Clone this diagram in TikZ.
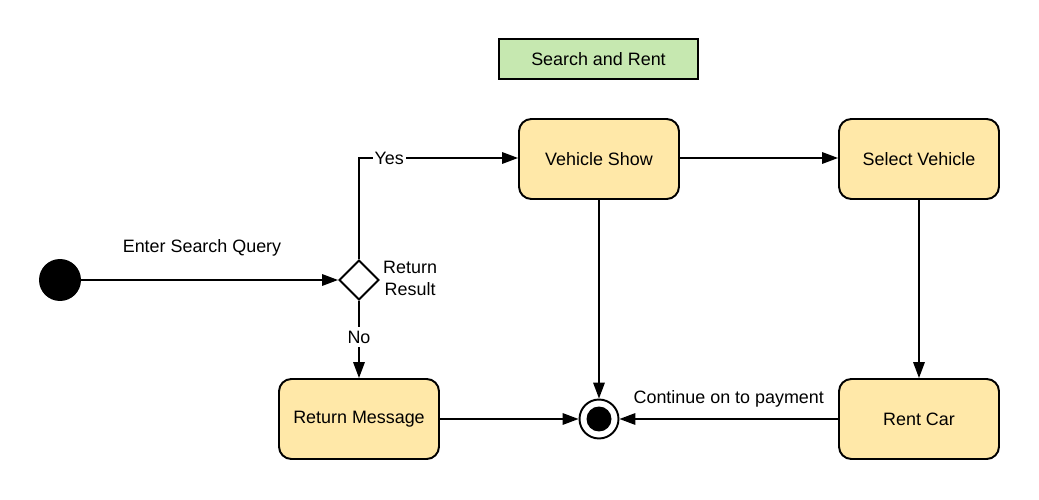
\documentclass[tikz,border=0pt]{standalone}
\usepackage{fontspec}
\setmainfont{Liberation Sans}
\usetikzlibrary{arrows.meta,shapes.geometric}
\definecolor{actyellow}{RGB}{255,232,168}
\definecolor{titlegreen}{RGB}{198,232,176}

\begin{document}
\begin{tikzpicture}[x=0.02cm, y=-0.02cm,
    font=\fontsize{10.2}{12.5}\selectfont,
    actbox/.style={draw, line width=1.1pt, rounded corners=7pt, fill=actyellow,
        minimum width=3.2cm, minimum height=1.6cm},
    flow/.style={line width=0.9pt, -{Triangle[length=9pt,width=6.5pt]}}]
    \useasboundingbox (0,0) rectangle (1039,500);

    % Titel
    \node[draw, line width=1.1pt, fill=titlegreen, minimum width=3.98cm, minimum height=0.8cm] (title) at (598.5,59) {Search and Rent};

    % Start, Entscheidung, Ende
    \node[circle, fill=black, minimum size=0.84cm, inner sep=0pt] (start) at (60,280) {};
    \node[diamond, draw, line width=1.1pt, fill=white, minimum size=0.8cm, inner sep=0pt] (decide) at (359,280) {};
    \node[circle, draw, line width=1.1pt, minimum size=0.78cm, inner sep=0pt] (stop) at (599,419) {};
    \node[circle, fill=black, minimum size=0.5cm, inner sep=0pt] at (stop) {};

    % Aktivitaeten
    \node[actbox] (show) at (599,159) {Vehicle Show};
    \node[actbox] (select) at (919,159) {Select Vehicle};
    \node[actbox] (message) at (359,419) {Return Message};
    \node[actbox] (rent) at (919,419) {Rent Car};

    % Uebergaenge
    \draw[flow] (start) -- node[pos=0.47, above=10pt] {Enter Search Query} (decide);
    \node[align=center, anchor=west] (result) at (377,278) {Return\\Result};
    \draw[flow] (decide.north) |- node[pos=0.595, fill=white, inner sep=1pt] {Yes} (show.west |- 0,158);
    \draw[flow] (decide.south) -- node[pos=0.47, fill=white, inner sep=2pt] {No} (message.north);
    \draw[flow] (show.east |- 0,158) -- (select.west |- 0,158);
    \draw[flow] (show.south) -- (stop.north);
    \draw[flow] (select.south) -- (rent.south |- rent.north);
    \draw[flow] (message.east |- 0,419) -- (stop.west);
    \draw[flow] (rent.west |- 0,419) -- node[above=3pt] {Continue on to payment} (stop.east);
\end{tikzpicture}
\end{document}
